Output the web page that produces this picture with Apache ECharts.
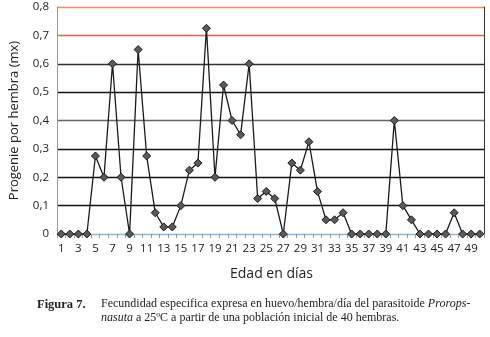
<!DOCTYPE html>
<html><head><meta charset="utf-8">
<script src="https://cdn.jsdelivr.net/npm/echarts@6/dist/echarts.min.js"></script>
<style>html,body{margin:0;padding:0;background:#fff}#c{width:490px;height:337px}</style>
</head><body><div id="c"></div>
<script>
const days = Array.from({length:50},(_,i)=>String(i+1));
const mx = [0,0,0,0,0.275,0.2,0.6,0.2,0,0.65,
            0.275,0.075,0.025,0.025,0.1,0.225,0.25,0.725,0.2,0.525,
            0.4,0.35,0.6,0.125,0.15,0.125,0,0.25,0.225,0.325,
            0.15,0.05,0.05,0.075,0,0,0,0,0,0.4,
            0.1,0.05,0,0,0,0,0.075,0,0,0];
const yTicks = ['0','0,1','0,2','0,3','0,4','0,5','0,6','0,7','0,8'];
const chart = echarts.init(document.getElementById('c'));
chart.setOption({
  animation:false,
  grid:{left:50,right:6,top:7,bottom:103},
  xAxis:{type:'category',data:days,boundaryGap:true,
    axisLine:{lineStyle:{color:'#8fb8d4',width:1.2}},
    axisTick:{show:true,interval:0,length:4,lineStyle:{color:'#999'}},
    axisLabel:{interval:1,color:'#222',fontFamily:'Open Sans',fontSize:11.5,margin:9},
    name:'Edad en días',nameLocation:'middle',nameGap:33,
    nameTextStyle:{fontFamily:'Open Sans',fontSize:14,color:'#222',padding:[0,0,0,2]}},
  yAxis:[{type:'value',min:0,max:0.8,interval:0.1,
    axisLine:{show:true,lineStyle:{color:'#999'}},
    axisTick:{show:false},
    axisLabel:{color:'#222',fontFamily:'Open Sans',fontSize:11.5,margin:8,
      formatter:v=>yTicks[Math.round(v*10)]},
    splitLine:{show:true,lineStyle:{width:1.4,color:['#8fb8d4','#111','#111','#111','#666','#111','#3a2c24','#d66a48','#ef8a68']}},
    name:'Progenie por hembra (mx)',nameLocation:'middle',nameGap:36,
    nameTextStyle:{fontFamily:'Open Sans',fontSize:13,color:'#222'}},
   {type:'value',min:0,max:0.8,interval:0.1,position:'right',
    axisLine:{show:true,lineStyle:{color:'#333'}},axisTick:{show:false},axisLabel:{show:false},splitLine:{show:false}}],
  series:[{type:'line',data:mx,symbol:'diamond',symbolSize:8,showAllSymbol:true,
    lineStyle:{color:'#1a1a1a',width:1.3},
    itemStyle:{color:'#5a5a5a',borderColor:'#1a1a1a',borderWidth:1}}],
  graphic:[
    {type:'text',left:37,top:298,style:{text:'Figura 7.',font:'bold 12.5px "Liberation Serif"',fill:'#222'}},
    {type:'text',left:101,top:298,style:{rich:{n:{font:'12px "Liberation Serif"',fill:'#222'},i:{font:'italic 12px "Liberation Serif"',fill:'#222'}},
      text:'{n|Fecundidad especifica expresa en huevo/hembra/día del parasitoide }{i|Prorops-}'}},
    {type:'text',left:101,top:312,style:{rich:{n:{font:'12px "Liberation Serif"',fill:'#222'},i:{font:'italic 12px "Liberation Serif"',fill:'#222'}},
      text:'{i|nasuta}{n| a 25ºC a partir de una población inicial de 40 hembras.}'}}
  ]
});
</script></body></html>
